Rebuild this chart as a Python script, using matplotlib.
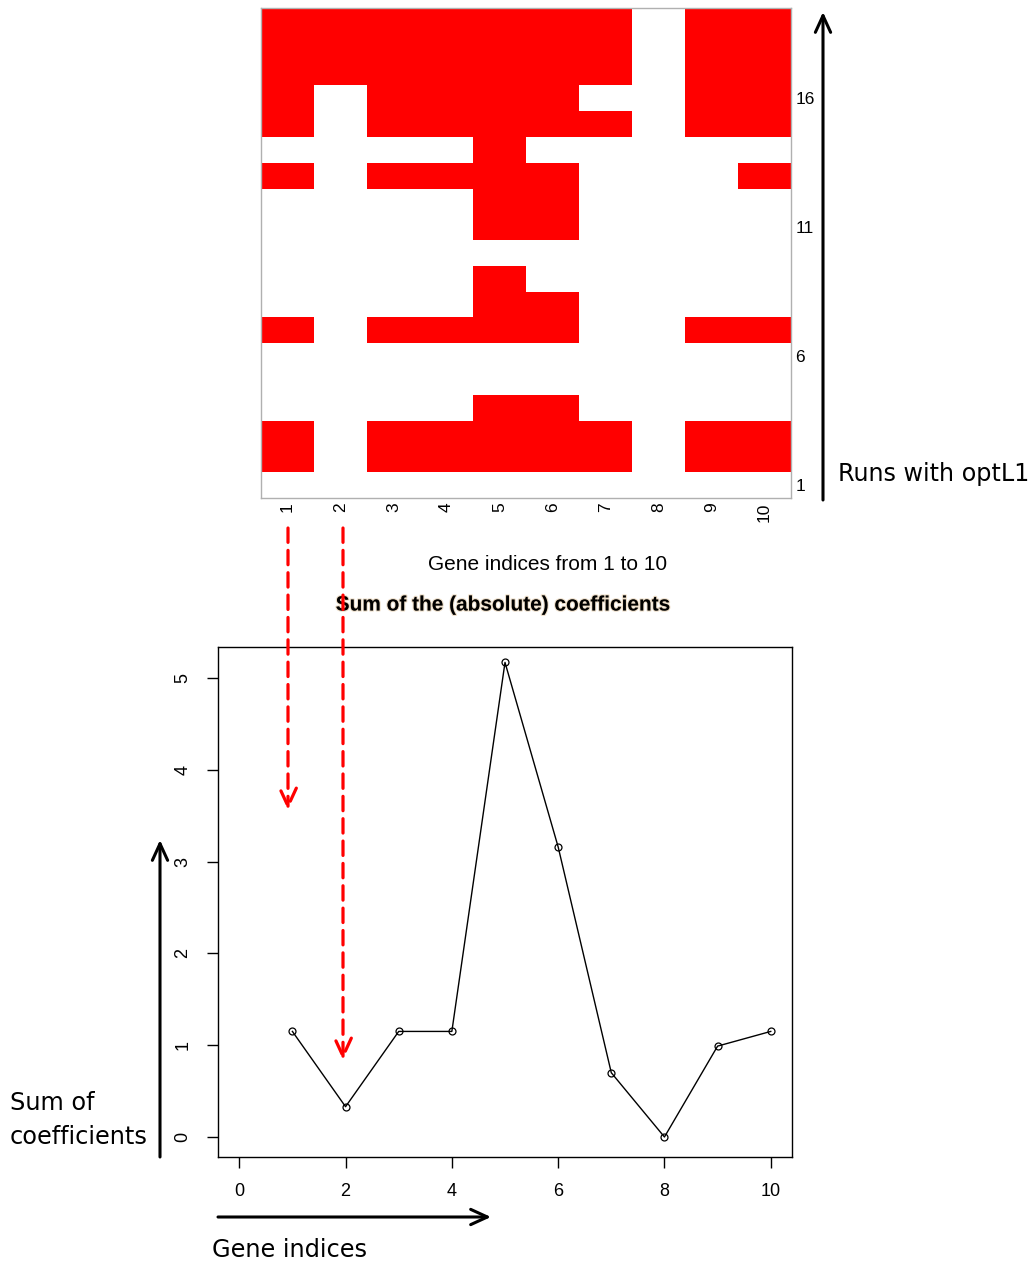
import numpy as np
import matplotlib

matplotlib.use("Agg")
import matplotlib.pyplot as plt
import matplotlib.patheffects as pe
from matplotlib.colors import ListedColormap

# genes picked by each optL1 run (run 1 at the bottom of the heatmap)
genes = list(range(1, 11))
runs = list(range(1, 20))
selected = [
    [],
    [1, 3, 4, 5, 6, 7, 9, 10],
    [1, 3, 4, 5, 6, 7, 9, 10],
    [5, 6],
    [],
    [],
    [1, 3, 4, 5, 6, 9, 10],
    [5, 6],
    [5],
    [],
    [5, 6],
    [5, 6],
    [1, 3, 4, 5, 6, 10],
    [5],
    [1, 3, 4, 5, 6, 7, 9, 10],
    [1, 3, 4, 5, 6, 9, 10],
    [1, 2, 3, 4, 5, 6, 7, 9, 10],
    [1, 2, 3, 4, 5, 6, 7, 9, 10],
    [1, 2, 3, 4, 5, 6, 7, 9, 10],
]
run_labels = [1, 6, 11, 16]

# sum of absolute coefficients per gene
coef_sum = [1.15, 0.33, 1.15, 1.15, 5.17, 3.16, 0.70, 0.0, 0.99, 1.15]
x_ticks = [0, 2, 4, 6, 8, 10]
y_ticks = [0, 1, 2, 3, 4, 5]

W, H = 1034, 1263
fig = plt.figure(figsize=(W / 100, H / 100), dpi=100)


def box(x0, y0, x1, y1):
    return [x0 / W, 1 - y1 / H, (x1 - x0) / W, (y1 - y0) / H]


arial = "Liberation Sans"
dejavu = "DejaVu Sans"

# --- selection heatmap ---
mat = np.zeros((len(runs), len(genes)))
for i, g in enumerate(selected):
    for j in g:
        mat[i, j - 1] = 1

ax1 = fig.add_axes(box(261, 8, 791, 498))
ax1.pcolormesh(np.arange(0.5, 11.5), np.arange(0.5, 20.5), mat,
               cmap=ListedColormap(["white", "#ff0000"]), vmin=0, vmax=1)
ax1.set_xlim(0.5, 10.5)
ax1.set_ylim(0.5, 19.5)
ax1.set_xticks(genes)
ax1.set_xticklabels([str(g) for g in genes], rotation=90, family=arial, fontsize=12.5)
ax1.set_yticks(run_labels)
ax1.set_yticklabels([str(r) for r in run_labels], family=arial, fontsize=12.5)
ax1.yaxis.tick_right()
ax1.tick_params(length=0, pad=3)
for s in ax1.spines.values():
    s.set_color("#b0b0b0")
    s.set_linewidth(1)

# --- coefficient sums ---
ax2 = fig.add_axes(box(218, 647, 792, 1157))
ax2.plot(genes, coef_sum, color="black", lw=1, marker="o", ms=5,
         mfc="none", mec="black", mew=0.9)
ax2.set_xlim(-0.4, 10.4)
ax2.set_ylim(-0.218, 5.338)
ax2.set_xticks(x_ticks)
ax2.set_yticks(y_ticks)
ax2.set_xticklabels([str(t) for t in x_ticks], family=arial, fontsize=13)
ax2.set_yticklabels([str(t) for t in y_ticks], family=arial, fontsize=13,
                    rotation=90, va="center")
ax2.tick_params(length=8, width=1, pad=11, direction="out")
for s in ax2.spines.values():
    s.set_linewidth(1)

# --- texts and annotation arrows in pixel space ---
ov = fig.add_axes([0, 0, 1, 1], zorder=5)
ov.set_xlim(0, W)
ov.set_ylim(H, 0)
ov.axis("off")
ov.patch.set_alpha(0)

ov.text(548, 564, "Gene indices from 1 to 10", ha="center", va="center",
        family=arial, fontsize=15)
ov.text(504, 605, "Sum of the (absolute) coefficients", ha="center", va="center",
        family=arial, fontsize=15, fontweight="bold",
        path_effects=[pe.withStroke(linewidth=1.6, foreground="#d9b88a", alpha=0.45)])
ov.text(838, 474, "Runs with optL1", ha="left", va="center", family=dejavu, fontsize=17.2)
ov.text(10, 1120, "Sum of\ncoefficients", ha="left", va="center", family=dejavu,
        fontsize=17.3, linespacing=1.5)
ov.text(212, 1250, "Gene indices", ha="left", va="center", family=dejavu, fontsize=17.3)

black_arrow = dict(arrowstyle="->,head_length=1.2,head_width=0.55", color="black", lw=2.2,
                   shrinkA=0, shrinkB=0)
ov.annotate("", xy=(823, 12), xytext=(823, 500), arrowprops=black_arrow)
ov.annotate("", xy=(160, 840), xytext=(160, 1157), arrowprops=black_arrow)
ov.annotate("", xy=(491, 1217), xytext=(218, 1217), arrowprops=black_arrow)

red_arrow = dict(arrowstyle="->,head_length=1.3,head_width=0.6", color="#ff0000", lw=2.3,
                 linestyle=(0, (4.5, 2.5)), shrinkA=0, shrinkB=0)
ov.annotate("", xy=(288, 810), xytext=(288, 528), arrowprops=red_arrow)
ov.annotate("", xy=(343, 1060), xytext=(343, 528), arrowprops=red_arrow)

fig.savefig("out.png", dpi=100)
